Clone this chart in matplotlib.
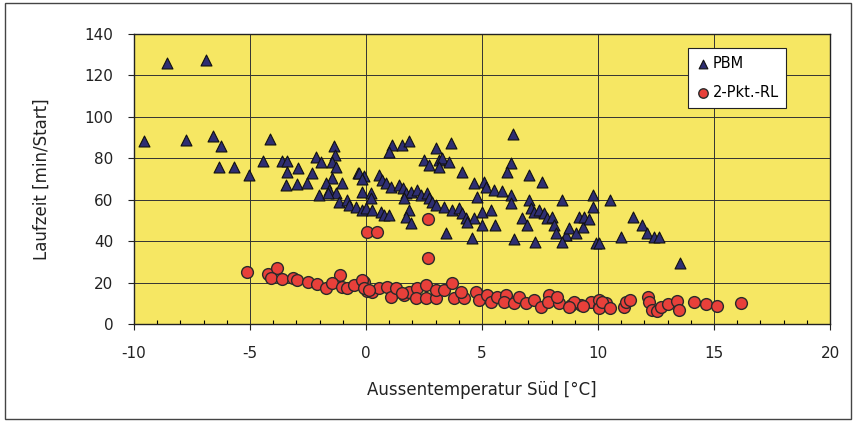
import numpy as np
import matplotlib.pyplot as plt
from matplotlib.patches import Rectangle
from matplotlib.ticker import MultipleLocator

plt.rcParams['font.family'] = ['DejaVu Sans']
plt.rcParams['axes.unicode_minus'] = False

# PBM (triangles): outdoor temperature [°C], runtime [min/start]
pbm_x = [-9.57, -8.59, -7.77, -6.88, -6.58, -6.26, -6.34, -5.69, -5.04, -4.44,
         -4.15, -3.63, -3.42, -3.40, -2.93, -2.34, -2.17, -1.95, -1.38, -1.34,
         -1.45, -1.31, -1.45, -1.02, -3.46, -2.96, -2.53, -1.74, -1.59, -1.31,
         -2.05, -1.62, -1.16, -0.81, -0.73, -0.44, -0.16, -0.01, 0.27, 0.63,
         0.78, 0.99, -0.34, -0.09, -0.30, -0.16, -0.16, 0.20, 0.20, 0.56,
         0.70, 0.85, 1.06, 1.42, 1.57, 1.71, 1.93, 2.21, 2.36, 2.64,
         2.72, 1.64, 1.85, 1.71, 1.93, 2.86, 3.00, 3.36, 3.72, 4.01,
         4.15, 4.30, 3.43, 1.13, 1.56, 1.85, 0.99, 3.00, 3.65, 2.50,
         2.72, 3.15, 3.29, 3.58, 3.15, 4.15, 6.35, 6.24, 6.09, 7.03,
         7.57, 4.66, 5.09, 5.16, 5.52, 5.88, 6.24, 6.24, 4.80, 4.66,
         5.01, 5.37, 4.37, 5.01, 5.55, 4.58, 6.38, 7.28, 7.03, 7.10,
         7.24, 7.46, 7.67, 6.74, 6.95, 7.81, 8.03, 8.10, 8.18, 8.61,
         8.75, 9.04, 9.33, 9.18, 9.40, 9.61, 8.46, 9.76, 9.76, 8.46,
         9.90, 10.04, 10.50, 11.51, 11.88, 12.10, 12.41, 12.63, 11.00, 13.53]
pbm_y = [88.4, 126.0, 88.9, 127.5, 90.5, 85.7, 76.0, 76.0, 72.0, 78.7,
         89.4, 78.7, 78.7, 73.6, 75.2, 73.0, 80.8, 78.4, 85.7, 81.6,
         78.4, 76.0, 70.4, 68.0, 67.0, 67.5, 68.0, 68.0, 64.7, 63.1,
         62.3, 63.1, 59.1, 59.9, 57.5, 56.7, 55.1, 55.9, 55.1, 54.2,
         52.7, 52.7, 73.1, 71.2, 72.8, 69.9, 63.9, 63.1, 60.7, 72.0,
         69.6, 68.0, 66.3, 67.1, 65.5, 63.1, 63.9, 64.7, 62.3, 63.1,
         60.7, 60.7, 55.1, 51.8, 48.6, 59.1, 57.5, 56.7, 55.1, 55.9,
         53.5, 51.0, 43.8, 86.5, 86.5, 88.1, 83.2, 84.9, 87.3, 79.2,
         76.8, 79.2, 80.0, 78.4, 76.0, 73.6, 91.8, 77.6, 73.6, 72.0,
         68.7, 68.0, 68.7, 66.3, 64.7, 64.3, 62.3, 58.3, 61.5, 51.0,
         54.2, 55.1, 49.4, 47.8, 47.8, 41.4, 40.9, 39.8, 59.9, 55.9,
         54.2, 55.1, 53.5, 51.0, 47.8, 51.0, 51.8, 47.8, 43.8, 43.0,
         46.2, 43.8, 47.0, 51.8, 51.5, 50.6, 59.9, 62.3, 56.7, 39.8,
         39.0, 39.0, 60.0, 51.8, 47.8, 44.1, 42.2, 42.2, 42.2, 29.3]

# 2-Pkt.-RL (circles)
rl_x = [2.69, 0.06, 0.49, 2.69, -5.14, -4.22, -3.82, -4.11, -3.63, -3.15,
        -2.96, -2.49, -2.10, -1.71, -1.12, -1.45, -1.02, -0.83, -0.52, -0.09,
        0.06, -0.16, -0.09, 0.27, 0.56, 0.92, 1.06, 1.28, 1.64, 1.85,
        2.21, 2.14, 2.57, 2.57, 3.00, 3.00, 3.36, 3.72, 3.79, 4.22,
        4.08, 4.73, 4.87, 5.23, 5.37, 5.66, 6.02, 5.95, 6.38, 6.59,
        6.88, 7.24, 7.53, 7.89, 7.82, 8.32, 8.25, 8.82, 9.26, 8.97,
        9.69, 10.04, 10.33, 10.04, 0.13, 1.56, 8.75, 9.33, 10.04, 10.19,
        10.50, 11.12, 11.19, 11.37, 12.17, 12.20, 12.34, 12.56, 12.70, 13.03,
        13.42, 13.49, 14.14, 14.64, 15.14, 16.15]
rl_y = [50.6, 44.6, 44.6, 31.7, 25.3, 24.2, 27.2, 22.1, 21.6, 22.4,
        21.3, 20.4, 19.3, 17.2, 23.7, 19.7, 18.0, 17.2, 18.8, 20.4,
        16.1, 21.3, 17.2, 15.6, 17.2, 18.0, 13.2, 17.2, 14.0, 15.6,
        17.2, 12.4, 18.8, 12.4, 12.4, 16.4, 16.4, 19.7, 12.4, 12.4,
        15.6, 15.6, 11.6, 14.0, 10.8, 13.2, 14.0, 10.8, 10.0, 13.2,
        10.0, 11.6, 8.4, 14.0, 10.8, 10.0, 13.2, 9.2, 9.2, 10.8,
        10.8, 8.4, 10.0, 11.6, 16.4, 14.8, 8.4, 8.7, 7.6, 10.8,
        7.6, 8.4, 10.8, 11.6, 13.2, 10.8, 6.8, 6.4, 8.4, 9.7,
        11.1, 6.8, 10.8, 9.7, 8.7, 10.0]

fig = plt.figure(figsize=(8.54, 4.21), dpi=100)
fig.patches.append(Rectangle((0.006, 0.004), 0.99, 0.99, transform=fig.transFigure,
                             fill=False, edgecolor='#444444', lw=1.0))

ax = fig.add_axes([0.157, 0.2304, 0.815, 0.689])
ax.set_facecolor('#F6E763')

ax.scatter(pbm_x, pbm_y, marker='^', s=62, color='#2E2E72', edgecolors='#111111',
           linewidths=0.8, label='PBM', zorder=3)
ax.scatter(rl_x, rl_y, marker='o', s=72, color='#E8403A', edgecolors='#2A2A2A',
           linewidths=1.0, label='2-Pkt.-RL', zorder=3)

ax.set_xlim(-10, 20)
ax.set_ylim(0, 140)
ax.xaxis.set_major_locator(MultipleLocator(5))
ax.xaxis.set_minor_locator(MultipleLocator(1))
ax.yaxis.set_major_locator(MultipleLocator(20))
ax.grid(True, which='major', color='#333333', lw=0.7)
ax.set_axisbelow(True)
ax.tick_params(axis='both', which='major', direction='out', length=4, width=0.8,
               labelsize=11, colors='#222222')
ax.tick_params(axis='x', which='minor', direction='in', length=3, width=0.8)
ax.tick_params(axis='x', which='major', pad=12)
ax.tick_params(axis='y', which='major', pad=11)
for sp in ax.spines.values():
    sp.set_color('#222222')
    sp.set_linewidth(1.0)

ax.set_xlabel('Aussentemperatur Süd [°C]', fontsize=12, labelpad=14, color='#222222')
ax.set_ylabel('Laufzeit [min/Start]', fontsize=12, labelpad=24, color='#222222')

leg = ax.legend(loc='upper left', bbox_to_anchor=(0.796, 0.95), fontsize=10.5,
                fancybox=False, framealpha=1, edgecolor='#222222',
                handletextpad=0.2, borderpad=0.5, labelspacing=1.0,
                handlelength=1.0, borderaxespad=0, markerscale=0.8)
leg.get_frame().set_linewidth(0.8)

fig.savefig('out.png', dpi=100)
